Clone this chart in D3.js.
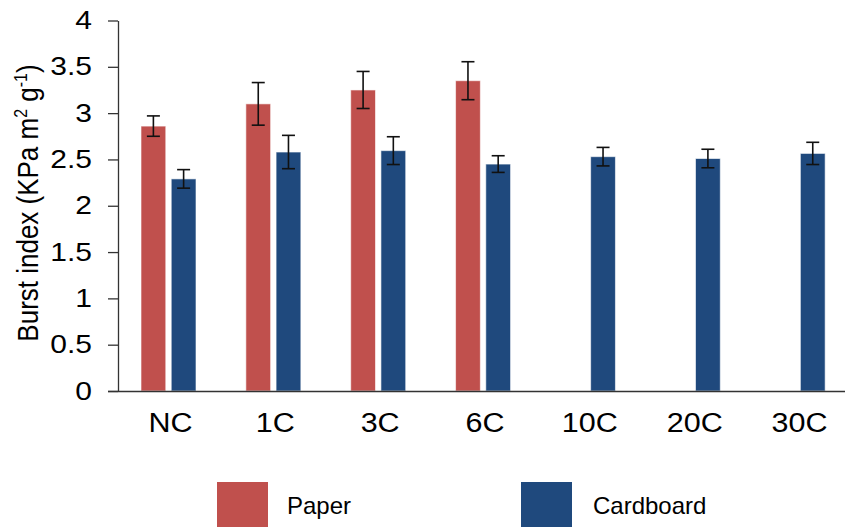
<!DOCTYPE html>
<html>
<head>
<meta charset="utf-8">
<script src="https://cdn.jsdelivr.net/npm/d3@7"></script>
<style>
  html, body { margin: 0; padding: 0; background: #fff; }
  svg { display: block; font-family: "Liberation Sans", Arial, sans-serif; }
</style>
</head>
<body>
<svg id="chart" width="845" height="527"></svg>
<script>
const categories = ["NC", "1C", "3C", "6C", "10C", "20C", "30C"];
const seriesNames = ["Paper", "Cardboard"];
const paperValues = [2.86, 3.10, 3.25, 3.35, null, null, null];
const paperErrors = [0.11, 0.23, 0.20, 0.205, null, null, null];
const cardboardValues = [2.29, 2.58, 2.595, 2.45, 2.53, 2.51, 2.565];
const cardboardErrors = [0.10, 0.18, 0.15, 0.09, 0.10, 0.10, 0.12];
const yTicks = [0, 0.5, 1, 1.5, 2, 2.5, 3, 3.5, 4];
const colors = { Paper: "#C0504D", Cardboard: "#1F497D" };

const svg = d3.select("#chart");
const x0 = d3.scaleBand().domain(categories).range([118, 852]).paddingInner(0).paddingOuter(0);
const x1 = d3.scaleBand().domain(seriesNames).range([23, 78]).paddingInner(0.18);
const y = d3.scaleLinear().domain([0, 4]).range([391, 20.5]);

function stretch(sel, k) {
  sel.each(function () {
    const len = this.getComputedTextLength();
    d3.select(this).attr("textLength", len * k).attr("lengthAdjust", "spacingAndGlyphs");
  });
}

const rows = [];
categories.forEach((c, i) => {
  if (paperValues[i] != null) rows.push({ cat: c, s: "Paper", v: paperValues[i], e: paperErrors[i] });
  if (cardboardValues[i] != null) rows.push({ cat: c, s: "Cardboard", v: cardboardValues[i], e: cardboardErrors[i] });
});

// bars
svg.append("g").selectAll("rect").data(rows).join("rect")
  .attr("x", d => x0(d.cat) + x1(d.s))
  .attr("y", d => y(d.v))
  .attr("width", x1.bandwidth())
  .attr("height", d => y(0) - y(d.v))
  .attr("fill", d => colors[d.s])
  .attr("stroke", "rgba(255,255,255,0.6)")
  .attr("stroke-width", 1);

// error bars
const eg = svg.append("g").attr("stroke", "#111").attr("stroke-width", 1.6);
rows.forEach(d => {
  const cx = x0(d.cat) + x1(d.s) + x1.bandwidth() / 2;
  eg.append("line").attr("x1", cx).attr("x2", cx).attr("y1", y(d.v + d.e)).attr("y2", y(d.v - d.e));
  eg.append("line").attr("x1", cx - 6.5).attr("x2", cx + 6.5).attr("y1", y(d.v + d.e)).attr("y2", y(d.v + d.e));
  eg.append("line").attr("x1", cx - 6.5).attr("x2", cx + 6.5).attr("y1", y(d.v - d.e)).attr("y2", y(d.v - d.e));
});

// y axis
const yAxis = svg.append("g").attr("transform", "translate(118,0)")
  .call(d3.axisLeft(y).tickValues(yTicks).tickFormat(d3.format("")).tickSize(10).tickSizeOuter(0).tickPadding(16));
yAxis.select(".domain").attr("stroke", "#333").attr("stroke-width", 1.3);
yAxis.selectAll(".tick line").attr("stroke", "#333").attr("stroke-width", 1.3);
yAxis.selectAll(".tick text").attr("font-size", 25).attr("fill", "#000")
  .attr("font-family", "Liberation Sans, Arial, sans-serif");
stretch(yAxis.selectAll(".tick text"), 1.2);

// x axis
const xAxis = svg.append("g").attr("transform", "translate(0,391.5)")
  .call(d3.axisBottom(x0).tickSize(0).tickPadding(21));
xAxis.select(".domain").remove();
svg.append("line").attr("x1", 108).attr("x2", 845).attr("y1", 391.5).attr("y2", 391.5)
  .attr("stroke", "#333").attr("stroke-width", 1.3);
xAxis.selectAll(".tick text").attr("font-size", 27).attr("fill", "#000")
  .attr("font-family", "Liberation Sans, Arial, sans-serif");
stretch(xAxis.selectAll(".tick text"), 1.13);

// y label
const yl = svg.append("text")
  .attr("transform", "translate(38,203) scale(1.15,1) rotate(-90)")
  .attr("text-anchor", "middle")
  .attr("font-size", 26).attr("fill", "#000");
yl.append("tspan").text("Burst index (KPa m");
yl.append("tspan").attr("font-size", 16).attr("dy", -10).text("2");
yl.append("tspan").attr("dy", 10).text(" g");
yl.append("tspan").attr("font-size", 16).attr("dy", -10).text("-1");
yl.append("tspan").attr("dy", 10).text(")");

// legend
const legendX = d3.scaleOrdinal().domain(seriesNames).range([217, 521]);
const lg = svg.append("g").selectAll("g").data(seriesNames).join("g")
  .attr("transform", d => `translate(${legendX(d)},482)`);
lg.append("rect").attr("width", 51).attr("height", 51).attr("fill", d => colors[d]);
lg.append("text").attr("x", d => d === "Paper" ? 70 : 72).attr("y", 32)
  .attr("font-size", 24).attr("fill", "#000").text(d => d);
</script>
</body>
</html>
